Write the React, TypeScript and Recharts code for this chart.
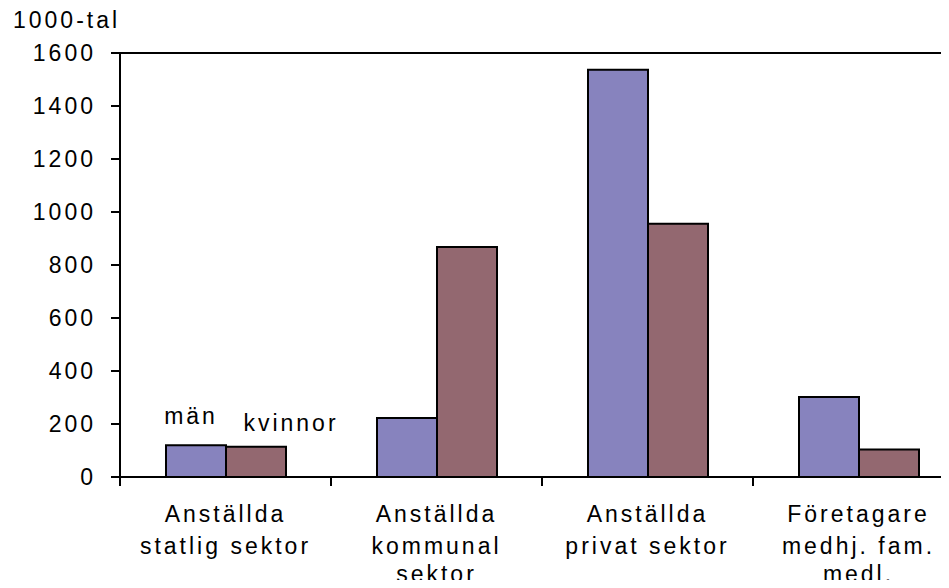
import { BarChart, Bar, XAxis, YAxis, ReferenceLine, LabelList } from 'recharts'

const categories = [
  'Anställda\nstatlig sektor',
  'Anställda\nkommunal\nsektor',
  'Anställda\nprivat sektor',
  'Företagare\nmedhj. fam.\nmedl.',
]
const man = [120, 223, 1537, 302]
const kvinnor = [114, 868, 956, 104]
const yTicks = [0, 200, 400, 600, 800, 1000, 1200, 1400, 1600]
const seriesNames = ['män', 'kvinnor']
const unitLabel = '1000-tal'

const data = categories.map((name, i) => ({ name, man: man[i], kvinnor: kvinnor[i] }))

const FONT = '"Liberation Sans", Arial, Helvetica, sans-serif'
const lineOffsets = [45, 76.5, 105]

function CategoryTick(props: any) {
  const { x, y, payload } = props
  const half = payload?.offset ?? 105.5
  const lines = String(payload.value).split('\n')
  return (
    <g>
      <line x1={x - half} y1={y} x2={x - half} y2={y + 9} stroke="#000" strokeWidth={2} />
      <text x={x} y={y} textAnchor="middle" fill="#000" fontSize={23}>
        {lines.map((l, i) => (
          <tspan key={i} x={x} y={y + lineOffsets[i]}>
            {l}
          </tspan>
        ))}
      </text>
    </g>
  )
}

function seriesLabel(name: string, dx: number, dy: number) {
  return (p: any) => {
    if (p.index !== 0) return null
    const cx = Number(p.x) + Number(p.width) / 2
    return (
      <text x={cx + dx} y={Number(p.y) + dy} textAnchor="middle" fill="#000" fontSize={23}>
        {name}
      </text>
    )
  }
}

export default function App() {
  return (
    <div
      style={{
        width: 941,
        height: 580,
        marginRight: -8,
        marginBottom: -8,
        overflow: 'hidden',
        fontFamily: FONT,
        letterSpacing: '3px',
      }}
    >
      <BarChart
        width={956}
        height={580}
        data={data}
        margin={{ top: 45, right: 0, bottom: 1, left: 0 }}
        barGap={0}
        barSize={60}
        style={{ overflow: 'visible' }}
      >
        <XAxis
          dataKey="name"
          height={110}
          axisLine={{ stroke: '#000', strokeWidth: 2 }}
          tickLine={false}
          tickSize={0}
          tickMargin={0}
          interval={0}
          tick={<CategoryTick />}
        />
        <YAxis
          width={112}
          domain={[0, 1600]}
          ticks={yTicks}
          interval={0}
          axisLine={{ stroke: '#000', strokeWidth: 2 }}
          tickLine={{ stroke: '#000', strokeWidth: 2 }}
          tickSize={9}
          tickMargin={15}
          tick={{ fill: '#000', fontSize: 23 }}
          label={{
            content: (p: any) => (
              <text x={p.viewBox.x + 5} y={p.viewBox.y - 25} fill="#000" fontSize={23}>
                {unitLabel}
              </text>
            ),
          }}
        />
        <ReferenceLine y={1600} stroke="#000" strokeWidth={2} />
        <Bar dataKey="man" fill="#8783BE" stroke="#000" strokeWidth={2} isAnimationActive={false}>
          <LabelList dataKey="man" content={seriesLabel(seriesNames[0], -5, -21)} />
        </Bar>
        <Bar dataKey="kvinnor" fill="#936870" stroke="#000" strokeWidth={2} isAnimationActive={false}>
          <LabelList dataKey="kvinnor" content={seriesLabel(seriesNames[1], 35, -16)} />
        </Bar>
      </BarChart>
    </div>
  )
}
